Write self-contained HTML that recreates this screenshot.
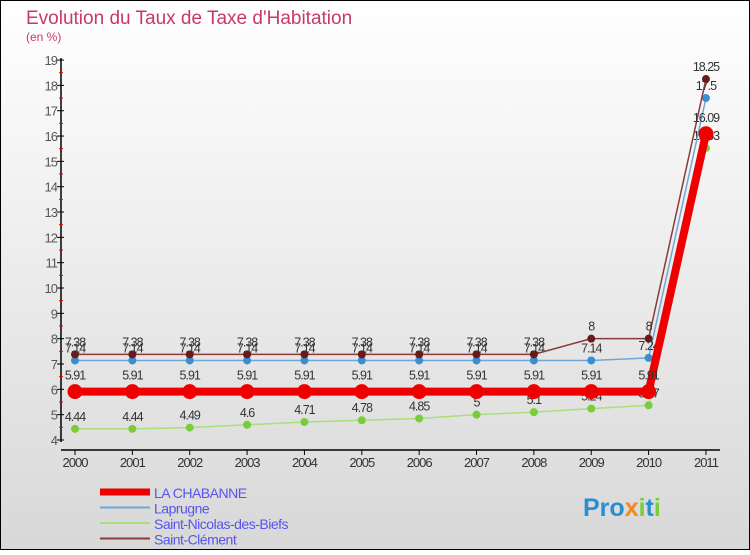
<!DOCTYPE html>
<html><head><meta charset="utf-8"><style>
body{margin:0}
#c{width:750px;height:550px;position:relative;font-family:"Liberation Sans",sans-serif}
</style></head><body>
<div id="c">
<svg id="s" width="750" height="550" xmlns="http://www.w3.org/2000/svg">
<defs><linearGradient id="bg" x1="0" y1="0" x2="0" y2="1"><stop offset="0" stop-color="#ffffff"/><stop offset="1" stop-color="#d8d8d8"/></linearGradient></defs>
<rect x="0.5" y="0.5" width="749" height="549" fill="url(#bg)" stroke="#000"/>
<text x="26" y="24" font-size="19" fill="#c8386a">Evolution du Taux de Taxe d'Habitation</text>
<text x="26" y="41" font-size="12" fill="#c8386a">(en %)</text>
<g id="axes"></g><g id="series"></g>
<g id="legend"></g>
<text x="583" y="516" font-size="25" font-weight="bold" fill="#2a8fd0">Pro<tspan fill="#f08a1c">x</tspan><tspan fill="#7acc3a">i</tspan>t<tspan fill="#7acc3a">i</tspan></text>
</svg></div>
<script>
const years=[2000,2001,2002,2003,2004,2005,2006,2007,2008,2009,2010,2011];
const yTicks=[4,5,6,7,8,9,10,11,12,13,14,15,16,17,18,19];
const seriesNames=["LA CHABANNE","Laprugne","Saint-Nicolas-des-Biefs","Saint-Clément"];
const chabanne=[5.91,5.91,5.91,5.91,5.91,5.91,5.91,5.91,5.91,5.91,5.91,16.09];
const laprugne=[7.14,7.14,7.14,7.14,7.14,7.14,7.14,7.14,7.14,7.14,7.24,17.5];
const nicolas=[4.44,4.44,4.49,4.6,4.71,4.78,4.85,5,5.1,5.24,5.37,15.53];
const clement=[7.38,7.38,7.38,7.38,7.38,7.38,7.38,7.38,7.38,8,8,18.25];
const NS="http://www.w3.org/2000/svg";
const X=i=>75+i*57.36, Y=v=>440-(v-4)*25.33;
function mk(t,a,p){const e=document.createElementNS(NS,t);for(const k in a)e.setAttribute(k,a[k]);p.appendChild(e);return e;}
const ax=document.getElementById('axes');
let l=mk('line',{x1:61,y1:58,x2:61,y2:442,stroke:'#000','stroke-width':1.5},ax);

l=mk('line',{x1:61,y1:450,x2:720,y2:450,stroke:'#000','stroke-width':1.5},ax);

yTicks.forEach(v=>{const y=Y(v);
 mk('line',{x1:57,y1:y,x2:64,y2:y,stroke:'#000'},ax);
 if(v<19)mk('line',{x1:59,y1:y-12.7,x2:63,y2:y-12.7,stroke:'#e00'},ax);
 const t=mk('text',{x:57,y:y+5,'text-anchor':'end','font-size':13,fill:'#555','letter-spacing':'-1'},ax);t.textContent=v;
 });
years.forEach((yr,i)=>{const x=X(i);
 mk('line',{x1:x,y1:450,x2:x,y2:455,stroke:'#000'},ax);
 const t=mk('text',{x:x,y:467,'text-anchor':'middle','font-size':13,fill:'#333','letter-spacing':'-1'},ax);t.textContent=yr;
 });
const sg=document.getElementById('series');
const defs=[[nicolas,'#a8e07a','#7acc3a',1.5,4,'series-saint-nicolas'],[laprugne,'#6fa8d8','#3a8fd0',1.5,4,'series-laprugne'],[clement,'#8a3a3a','#6a1a1a',1.5,4,'series-saint-clement'],[chabanne,'#ee0000','#ee0000',8,7.5,'series-la-chabanne']];
defs.forEach(([d,lc,pc,w,r,name])=>{
 const g=mk('g',{},sg);
 mk('polyline',{points:d.map((v,i)=>X(i)+','+Y(v)).join(' '),fill:'none',stroke:lc,'stroke-width':w},g);
 d.forEach((v,i)=>{const c=mk('circle',{cx:X(i),cy:Y(v),r:r,fill:pc},g);
  
  const t=mk('text',{x:X(i),y:Y(v)-8-(r>5?4:0),'text-anchor':'middle','font-size':12.5,fill:'#333','letter-spacing':'-1'},g);t.textContent=v;
  });
});
const lg=document.getElementById('legend');
const lc=[['#ee0000',7],['#6fa8d8',2],['#a8e07a',2],['#8a3a3a',2]];
seriesNames.forEach((n,i)=>{const y=492+i*15.5;
 const g=mk('g',{},lg);
 mk('line',{x1:100,y1:y,x2:150,y2:y,stroke:lc[i][0],'stroke-width':lc[i][1]},g);
 const t=mk('text',{x:154,y:y+6,'font-size':14,fill:'#5555ee','letter-spacing':'-0.5'},g);t.textContent=n;});
</script>
</body></html>
